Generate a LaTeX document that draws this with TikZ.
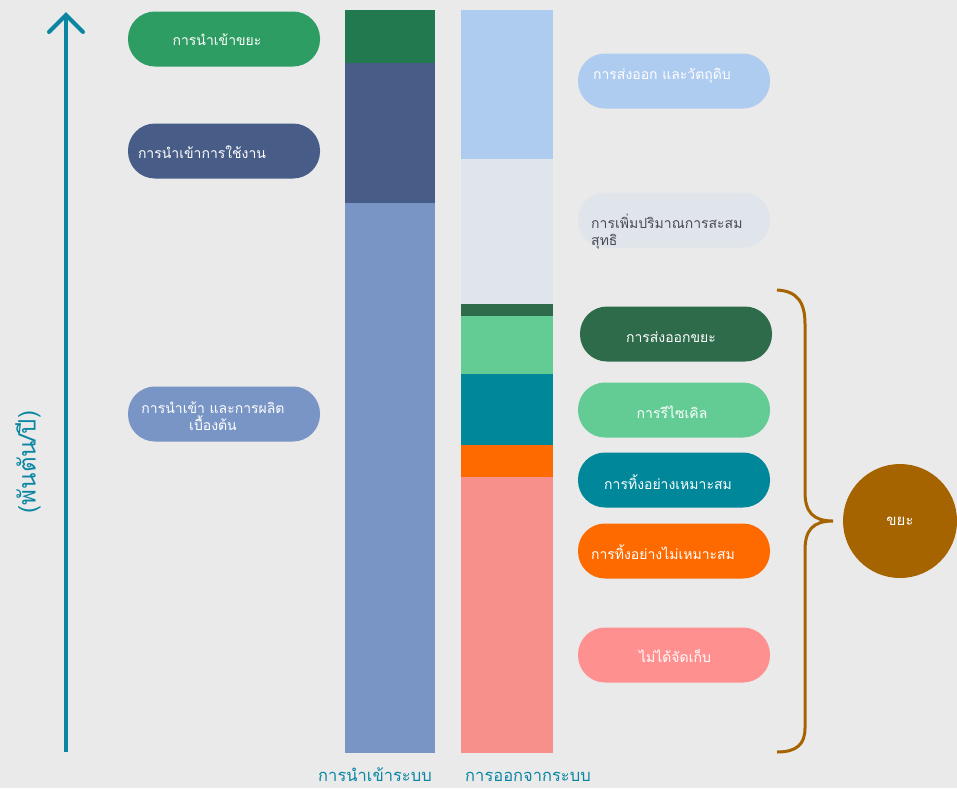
\documentclass[tikz,border=0pt]{standalone}
\usepackage{fontspec}
\newfontfamily\thaifont[Script=Thai]{Loma}

\definecolor{bgc}{HTML}{EAEAEA}
\definecolor{axisc}{HTML}{0A86A3}
\definecolor{impwaste}{HTML}{22784F}
\definecolor{impwastepill}{HTML}{2E9D63}
\definecolor{impuse}{HTML}{475C87}
\definecolor{impprod}{HTML}{7995C5}
\definecolor{export}{HTML}{AECBF0}
\definecolor{stock}{HTML}{DFE5EA}
\definecolor{stocktext}{HTML}{4A4A55}
\definecolor{expwaste}{HTML}{2E6B4A}
\definecolor{recycle}{HTML}{63CC94}
\definecolor{proper}{HTML}{00879A}
\definecolor{improper}{HTML}{FF6A00}
\definecolor{uncollbar}{HTML}{F7908A}
\definecolor{uncollpill}{HTML}{FF9090}
\definecolor{wastec}{HTML}{A66400}

\tikzset{
  pill/.style={shape=rectangle, minimum width=192pt, minimum height=55pt,
    rounded corners=27pt, inner sep=0pt},
  pilltext/.style={font=\thaifont\fontsize{14}{17}\selectfont, text=white,
    inner sep=0pt, align=center},
  axislabel/.style={font=\thaifont\fontsize{16.5}{20}\selectfont, text=axisc, inner sep=0pt},
}

\begin{document}
\begin{tikzpicture}[x=1pt,y=-1pt]
  % canvas
  \fill[bgc] (0,0) rectangle (957,788);
  \useasboundingbox (0,0) rectangle (957,788);

  % vertical axis with open chevron head
  \coordinate (axbot) at (66,752);
  \coordinate (axtop) at (66,15);
  \draw[axisc, line width=4pt] (axbot) -- (axtop);
  \draw[axisc, line width=4pt, line cap=round] (49,32) -- (axtop) -- (83,32);
  \node[axislabel, font=\thaifont\fontsize{24}{27}\selectfont, rotate=90] (ylab) at (28,462) {(พันตัน/ปี)};

  % input column
  \fill[impwaste] (345,10) rectangle (435,63);
  \fill[impuse]   (345,63) rectangle (435,203);
  \fill[impprod]  (345,203) rectangle (435,753);

  % output column
  \fill[export]     (461,10)  rectangle (553,159);
  \fill[stock]      (461,159) rectangle (553,304);
  \fill[expwaste]   (461,304) rectangle (553,316);
  \fill[recycle]    (461,316) rectangle (553,374);
  \fill[proper]     (461,374) rectangle (553,445);
  \fill[improper]   (461,445) rectangle (553,477);
  \fill[uncollbar]  (461,477) rectangle (553,753);

  % column captions
  \node[axislabel, anchor=base] (incap)  at (375,781) {การนำเข้าระบบ};
  \node[axislabel, anchor=base] (outcap) at (528,781) {การออกจากระบบ};

  % input legend
  \node[pill, fill=impwastepill] (p1) at (224,39) {};
  \node[pilltext] (t1) at (217,40) {การนำเข้าขยะ};
  \node[pill, fill=impuse] (p2) at (224,151) {};
  \node[pilltext] (t2) at (202,152) {การนำเข้าการใช้งาน};
  \node[pill, fill=impprod] (p3) at (224,414) {};
  \node[pilltext] (t3) at (213,416) {การนำเข้า และการผลิต\\เบื้องต้น};

  % output legend
  \node[pill, fill=export] (p4) at (674,81) {};
  \node[pilltext] (t4) at (662,76) {การส่งออก และวัตถุดิบ};
  \node[pill, fill=stock] (p5) at (674,220) {};
  \node[pilltext, text=stocktext, align=left, anchor=west] (t5) at (591,232)
    {การเพิ่มปริมาณการสะสม\\สุทธิ};
  \node[pill, fill=expwaste] (p6) at (676,334) {};
  \node[pilltext] (t6) at (671,337) {การส่งออกขยะ};
  \node[pill, fill=recycle] (p7) at (674,410) {};
  \node[pilltext] (t7) at (672,412) {การรีไซเคิล};
  \node[pill, fill=proper] (p8) at (674,480) {};
  \node[pilltext] (t8) at (668,482) {การทิ้งอย่างเหมาะสม};
  \node[pill, fill=improper] (p9) at (674,551) {};
  \node[pilltext] (t9) at (663,552) {การทิ้งอย่างไม่เหมาะสม};
  \node[pill, fill=uncollpill] (p10) at (674,655) {};
  \node[pilltext] (t10) at (675,656) {ไม่ได้จัดเก็บ};

  % waste brace and total
  \coordinate (brtop) at (777,290);
  \coordinate (brtip) at (833,521);
  \coordinate (brbot) at (777,752);
  \draw[wastec, line width=3pt]
    (brtop) .. controls (797,291) and (805,302) .. (805,324)
    -- (805,492) .. controls (805,512) and (813,521) .. (brtip)
    .. controls (813,521) and (805,530) .. (805,550)
    -- (805,728) .. controls (805,744) and (797,752) .. (brbot);
  \node[circle, fill=wastec, minimum size=114pt, inner sep=0pt,
    font=\thaifont\fontsize{15}{18}\selectfont, text=white] (waste) at (900,521) {ขยะ};
\end{tikzpicture}
\end{document}
